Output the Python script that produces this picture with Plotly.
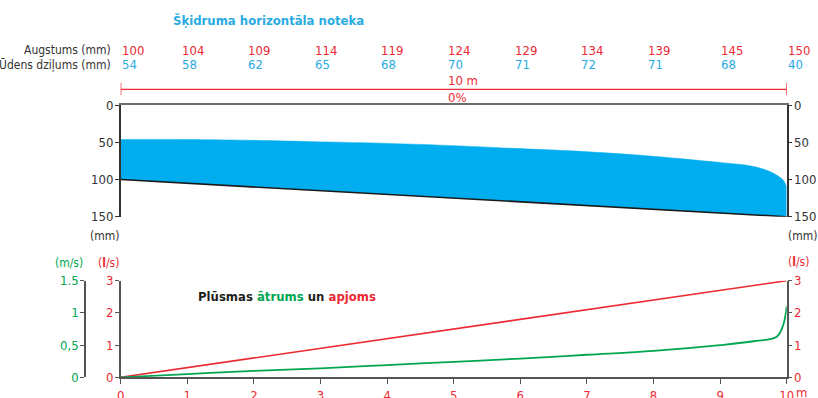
import plotly.graph_objects as go

# ---- data -----------------------------------------------------------------
channel_length_m = 10

# positions (m) of the per-section readings along the gutter
section_pos_m = [0, 0.9, 1.9, 2.9, 3.9, 4.9, 5.9, 6.9, 7.9, 9.0, 10]
gutter_height_mm = [100, 104, 109, 114, 119, 124, 129, 134, 139, 145, 150]
water_depth_mm = [54, 58, 62, 65, 68, 70, 71, 72, 71, 68, 40]

# extra surface readings near the outlet where the water drops off
outlet_pos_m = [9.45, 9.7, 9.85, 9.95]
outlet_surface_mm = [81.5, 87.5, 94, 101]

# gutter floor
floor_pos_m = [0, 10]
floor_mm = [100, 150]

# flow volume (l/s) and speed (m/s) along the gutter
flow_pos_m = [0, 10]
flow_ls = [0, 3]
speed_pos_m = [0, 1, 2, 3, 4, 5, 6, 7, 8, 9, 9.5, 9.85, 9.95, 10]
speed_ms = [0, 0.05, 0.10, 0.14, 0.19, 0.24, 0.29, 0.35, 0.41, 0.50, 0.56, 0.63, 0.82, 1.10]

depth_ticks = [0, 50, 100, 150]
flow_ticks = [0, 1, 2, 3]
speed_ticks = [0, 0.5, 1, 1.5]
speed_tick_text = ["0", "0,5", "1", "1.5"]
x_ticks = list(range(0, 11))

# ---- styling ----------------------------------------------------------------
W, H = 818, 398
FONT = "DejaVu Sans Condensed, Liberation Sans Narrow, sans-serif"
NUM = 13       # numeric labels
TXT = 12       # word labels
HEAD = 13      # bold headings
RED = "#ec2a34"
BLUE = "#29abe2"
FILL = "#00aeef"
GREEN = "#00a651"
DARK = "#333333"
AXIS = "#555555"
STANDOFF = -1


def px(x):
    return x / W


def py(y):
    return 1 - y / H


# water surface level = gutter floor depth minus water depth at each section
surface_pos = section_pos_m[:-1] + outlet_pos_m + [section_pos_m[-1]]
surface_mm = [h - d for h, d in zip(gutter_height_mm, water_depth_mm)]
surface_mm = surface_mm[:-1] + outlet_surface_mm + [surface_mm[-1]]

fig = go.Figure()

# water body: surface line, then floor filled up to it
fig.add_trace(go.Scatter(
    x=surface_pos, y=surface_mm, mode="lines",
    line=dict(color=FILL, width=0.5, shape="spline", smoothing=0.9),
    xaxis="x", yaxis="y", hoverinfo="skip", showlegend=False))
fig.add_trace(go.Scatter(
    x=floor_pos_m, y=floor_mm, mode="lines",
    line=dict(color="#1a1a1a", width=1.6),
    fill="tonexty", fillcolor=FILL,
    xaxis="x", yaxis="y", hoverinfo="skip", showlegend=False))
# carrier for the right-hand depth axis
fig.add_trace(go.Scatter(x=[None], y=[None], xaxis="x", yaxis="y2",
                         showlegend=False, hoverinfo="skip"))

# flow volume and speed
fig.add_trace(go.Scatter(
    x=flow_pos_m, y=flow_ls, mode="lines",
    line=dict(color=RED, width=1.6),
    xaxis="x2", yaxis="y3", hoverinfo="skip", showlegend=False))
fig.add_trace(go.Scatter(
    x=speed_pos_m, y=speed_ms, mode="lines",
    line=dict(color=GREEN, width=1.8, shape="spline", smoothing=1.0),
    xaxis="x2", yaxis="y5", hoverinfo="skip", showlegend=False))
fig.add_trace(go.Scatter(x=[None], y=[None], xaxis="x2", yaxis="y4",
                         showlegend=False, hoverinfo="skip"))

x_dom = [px(120.7), px(786.7)]
top_dom = [py(216.7), py(105.3)]
bot_dom = [py(377.3), py(280.7)]

tick_font = dict(family=FONT, size=NUM, color=DARK)
red_font = dict(family=FONT, size=NUM, color=RED)
common = dict(showgrid=False, zeroline=False, automargin=False)

fig.update_layout(
    template="none",
    width=W, height=H,
    margin=dict(l=0, r=0, t=0, b=0),
    paper_bgcolor="white", plot_bgcolor="white",
    font=dict(family=FONT, size=NUM, color=DARK),
    xaxis=dict(domain=x_dom, range=[0, channel_length_m], anchor="y",
               side="top", showline=True, linecolor="#6d6d6d", linewidth=1.5,
               showticklabels=False, ticks="", **common),
    yaxis=dict(domain=top_dom, range=[150, 0], anchor="x",
               tickvals=depth_ticks, ticks="outside", ticklen=4, tickwidth=1.3,
               tickcolor=DARK, showline=True, linecolor=DARK, linewidth=1.5,
               tickfont=tick_font, ticklabelstandoff=STANDOFF, **common),
    yaxis2=dict(domain=top_dom, range=[150, 0], anchor="x", overlaying="y",
                side="right", tickvals=depth_ticks, ticks="outside", ticklen=4,
                tickwidth=1.3, tickcolor=DARK, showline=True, linecolor=DARK,
                linewidth=1.5, tickfont=tick_font, ticklabelstandoff=STANDOFF,
                **common),
    xaxis2=dict(domain=x_dom, range=[0, channel_length_m], anchor="y3",
                tickvals=x_ticks, ticktext=[str(t) for t in x_ticks],
                ticks="outside", ticklen=5, tickwidth=1.3, tickcolor=AXIS,
                showline=True, linecolor=AXIS, linewidth=1.5,
                tickfont=red_font, ticklabelstandoff=0, **common),
    yaxis3=dict(domain=bot_dom, range=[0, 3], anchor="x2",
                tickvals=flow_ticks, ticks="outside", ticklen=4, tickwidth=1.3,
                tickcolor=AXIS, showline=True, linecolor=AXIS, linewidth=1.5,
                tickfont=red_font, ticklabelstandoff=STANDOFF, **common),
    yaxis4=dict(domain=bot_dom, range=[0, 3], anchor="x2", overlaying="y3",
                side="right", tickvals=flow_ticks, ticks="outside", ticklen=4,
                tickwidth=1.3, tickcolor=AXIS, showline=True, linecolor=AXIS,
                linewidth=1.5, tickfont=red_font, ticklabelstandoff=STANDOFF,
                **common),
    yaxis5=dict(domain=bot_dom, range=[0, 1.5], anchor="free",
                overlaying="y3", side="left", position=px(85),
                tickvals=speed_ticks, ticktext=speed_tick_text,
                ticks="outside", ticklen=4, tickwidth=1.3, tickcolor=AXIS,
                showline=True, linecolor=AXIS, linewidth=1.5,
                tickfont=dict(family=FONT, size=NUM, color=GREEN),
                ticklabelstandoff=STANDOFF, **common),
)

ann = []


def label(text, x, y, font, xref="paper", xanchor="center", xshift=0):
    ann.append(dict(text=text, xref=xref, yref="paper", x=x, y=y,
                    xanchor=xanchor, yanchor="middle", xshift=xshift,
                    showarrow=False, font=font))


# headings
label("<b>Šķidruma horizontāla noteka</b>", px(268), py(20),
      dict(family=FONT, size=HEAD, color=BLUE))
label(f"<b>Plūsmas <span style='color:{GREEN}'>ātrums</span> un "
      f"<span style='color:{RED}'>apjoms</span></b>", px(287), py(296),
      dict(family=FONT, size=HEAD, color="#231f20"))

# per-section reading rows
row_font = dict(family=FONT, size=TXT, color=DARK)
label("Augstums (mm)", px(113.5), py(50.5), row_font, xanchor="right")
label("Ūdens dziļums (mm)", px(113.5), py(64.5), row_font, xanchor="right")
for pos, h, d in zip(section_pos_m, gutter_height_mm, water_depth_mm):
    label(str(h), pos, py(50.5), red_font, xref="x", xanchor="left", xshift=-1)
    label(str(d), pos, py(64.5), dict(family=FONT, size=NUM, color=BLUE),
          xref="x", xanchor="left", xshift=-1)

# length / slope dimension
mid = section_pos_m[5]
label(f"{channel_length_m} m", mid, py(80.5), red_font, xref="x",
      xanchor="left", xshift=-1)
label("0%", mid, py(97.5), red_font, xref="x", xanchor="left", xshift=-1)

# unit labels
label("(mm)", px(104), py(236), row_font)
label("(mm)", px(802), py(236), row_font)
label("(m/s)", px(69), py(263), dict(family=FONT, size=TXT, color=GREEN))
label("(<b>l</b>/s)", px(108.5), py(263), dict(family=FONT, size=TXT, color=RED))
label("(<b>l</b>/s)", px(798), py(262), dict(family=FONT, size=TXT, color=RED))
label("m", channel_length_m, py(392.5), red_font, xref="x2", xanchor="left",
      xshift=7)

fig.update_layout(annotations=ann)

# red dimension line with end stops
fig.add_shape(type="line", xref="x", yref="paper", x0=0, x1=channel_length_m,
              y0=py(89.3), y1=py(89.3), line=dict(color=RED, width=1.3))
for xe in (0, channel_length_m):
    fig.add_shape(type="line", xref="x", yref="paper", x0=xe, x1=xe,
                  y0=py(82.7), y1=py(95), line=dict(color=RED, width=1.3))

fig.write_html("out.html")
